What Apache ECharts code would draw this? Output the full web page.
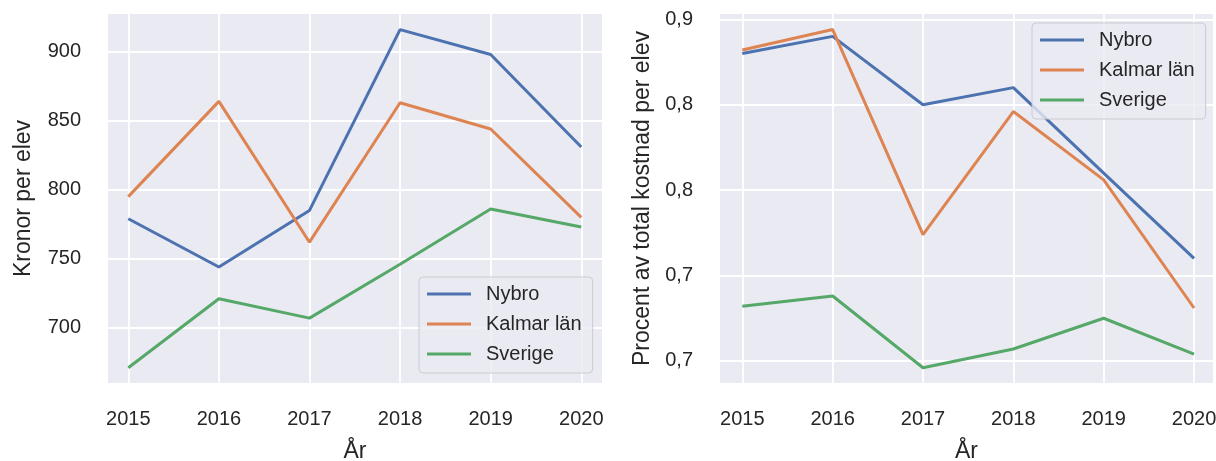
<!DOCTYPE html>
<html>
<head>
<meta charset="utf-8">
<script src="https://cdn.jsdelivr.net/npm/echarts@6/dist/echarts.min.js"></script>
<style>
html,body{margin:0;padding:0;background:#fff;}
#chart{width:1216px;height:461px;}
</style>
</head>
<body>
<div id="chart"></div>
<script>
// ---- data ----
const years = [2015, 2016, 2017, 2018, 2019, 2020];
const seriesNames = ['Nybro', 'Kalmar län', 'Sverige'];

// Left: Kronor per elev
const kronorNybro   = [779, 744, 785, 916, 898, 831];
const kronorKalmar  = [795, 864, 762, 863, 844, 780];
const kronorSverige = [671, 721, 707, 746, 786, 773];
const leftTicks = [700, 750, 800, 850, 900];

// Right: Procent av total kostnad per elev (axis units; labels shown as printed)
const procentNybro   = [0.880, 0.890, 0.850, 0.860, 0.810, 0.760];
const procentKalmar  = [0.882, 0.894, 0.774, 0.846, 0.806, 0.731];
const procentSverige = [0.732, 0.738, 0.696, 0.707, 0.725, 0.704];
const rightTickValues = [0.70, 0.75, 0.80, 0.85, 0.90];
const rightTickLabels = ['0,7', '0,7', '0,8', '0,8', '0,9'];

const colors = ['#4C72B0', '#DD8452', '#55A868'];

function pairs(xs, ys) { return xs.map((x, i) => [x, ys[i]]); }

const chart = echarts.init(document.getElementById('chart'), null, {renderer: 'canvas'});

const FONT = 'Liberation Sans, Arial, sans-serif';
const textColor = '#262626';

function xAxisCfg(gridIndex, min, max) {
  return {
    type: 'value', gridIndex, min, max,
    axisLine: {show: false}, axisTick: {show: false, customValues: years},
    axisLabel: {customValues: years, color: textColor, fontSize: 20, fontFamily: FONT, margin: 26,
      formatter: v => String(Math.round(v))},
    splitLine: {show: true, lineStyle: {color: '#ffffff', width: 1.8}},
    name: 'År', nameLocation: 'middle', nameGap: 57,
    nameTextStyle: {color: textColor, fontSize: 23, fontFamily: FONT}
  };
}

function yAxisCfg(gridIndex, min, max, tickVals, fmt, name, gap) {
  return {
    type: 'value', gridIndex, min, max,
    axisLine: {show: false}, axisTick: {show: false, customValues: tickVals},
    axisLabel: {customValues: tickVals, color: textColor, fontSize: 20, fontFamily: FONT, margin: 27, formatter: fmt},
    splitLine: {show: true, lineStyle: {color: '#ffffff', width: 1.8}},
    name, nameLocation: 'middle', nameGap: gap,
    nameTextStyle: {color: textColor, fontSize: 23, fontFamily: FONT}
  };
}

function lineSeries(name, idx, xi, data) {
  return {
    type: 'line', name, xAxisIndex: xi, yAxisIndex: xi,
    data: pairs(years, data), showSymbol: false, symbol: 'none',
    color: colors[idx],
    lineStyle: {color: colors[idx], width: 3}, z: 3
  };
}

function legendCfg(left, top) {
  return {
    orient: 'vertical', left, top,
    data: seriesNames,
    icon: 'rect', itemWidth: 44, itemHeight: 3, itemGap: 6,
    padding: [5, 11, 7, 8],
    backgroundColor: 'rgba(234,234,242,0.8)',
    borderColor: 'rgba(200,200,205,0.9)', borderWidth: 1, borderRadius: 4,
    textStyle: {color: textColor, fontSize: 20, fontFamily: FONT, lineHeight: 24, padding: [0, 0, 0, 10]},
    selectedMode: false
  };
}

const option = {
  backgroundColor: '#ffffff',
  animation: false,
  grid: [
    {left: 108, top: 14, width: 494, height: 369, show: true, backgroundColor: '#EAEAF2', borderWidth: 0,
     containLabel: false, outerBoundsMode: 'none'},
    {left: 720, top: 14, width: 493, height: 369, show: true, backgroundColor: '#EAEAF2', borderWidth: 0,
     containLabel: false, outerBoundsMode: 'none'}
  ],
  xAxis: [xAxisCfg(0, 2014.776, 2020.229), xAxisCfg(1, 2014.753, 2020.21)],
  yAxis: [
    yAxisCfg(0, 660, 927.3, leftTicks, v => String(Math.round(v)), 'Kronor per elev', 73),
    yAxisCfg(1, 0.6871, 0.9031, rightTickValues,
      v => { const i = rightTickValues.findIndex(t => Math.abs(t - v) < 1e-6); return i >= 0 ? rightTickLabels[i] : ''; },
      'Procent av total kostnad per elev', 66)
  ],
  legend: [legendCfg(419, 277), legendCfg(1032, 23)],
  series: [
    lineSeries('Nybro', 0, 0, kronorNybro),
    lineSeries('Kalmar län', 1, 0, kronorKalmar),
    lineSeries('Sverige', 2, 0, kronorSverige),
    lineSeries('Nybro', 0, 1, procentNybro),
    lineSeries('Kalmar län', 1, 1, procentKalmar),
    lineSeries('Sverige', 2, 1, procentSverige)
  ]
};
chart.setOption(option);
</script>
</body>
</html>
